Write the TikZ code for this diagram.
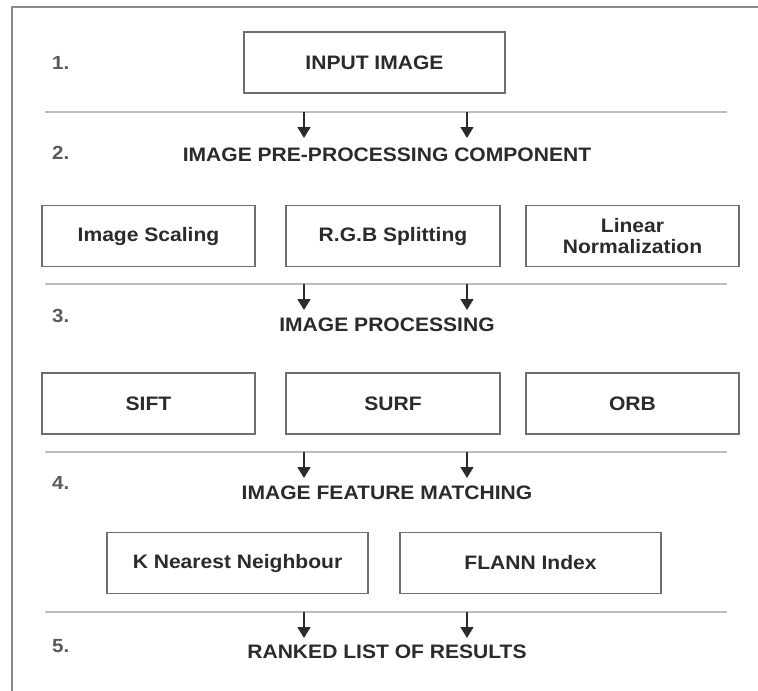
\documentclass[tikz,border=0pt]{standalone}
\usepackage{fontspec}
\setmainfont{Liberation Sans}[FakeStretch=1.08]
\usetikzlibrary{arrows.meta}
\definecolor{ink}{HTML}{2B2B2B}
\definecolor{numink}{HTML}{5A5A5A}
\definecolor{boxline}{HTML}{6E6E6E}
\definecolor{sepline}{HTML}{BDBDBD}
\definecolor{frameline}{HTML}{8A8A8A}
\begin{document}
\begin{tikzpicture}[x=1pt,y=-1pt,
  txt/.style={font=\fontsize{19.5}{22}\selectfont\bfseries, text=ink, align=center, inner sep=0pt},
  num/.style={font=\fontsize{19}{22}\selectfont\bfseries, text=numink, anchor=west, inner sep=0pt},
  stepbox/.style={draw=boxline, line width=1.3pt, minimum height=61pt, txt},
  sep/.style={draw=sepline, line width=1.6pt},
  arr/.style={draw=ink, line width=1.5pt, -{Triangle[width=13pt,length=11pt]}}]
\useasboundingbox (0,0) rectangle (758,691);
\fill[white] (0,0) rectangle (758,691);
% cropped outer frame (top and left edges only)
\draw[frameline, line width=1.6pt] (12,691) -- (12,7) -- (758,7);

% stage numbers
\node[num] (n1) at (52,63) {1.};
\node[num] (n2) at (52,153) {2.};
\node[num] (n3) at (52,316) {3.};
\node[num] (n4) at (52,483) {4.};
\node[num] (n5) at (52,646) {5.};

% stage 1
\node[stepbox, minimum width=261pt] (input) at (374.5,62.5) {INPUT IMAGE};

% separators between stages
\coordinate (s1w) at (45,112);  \coordinate (s1e) at (727,112);
\coordinate (s2w) at (45,284);  \coordinate (s2e) at (727,284);
\coordinate (s3w) at (45,452);  \coordinate (s3e) at (727,452);
\coordinate (s4w) at (45,612);  \coordinate (s4e) at (727,612);
\foreach \s in {1,2,3,4} \draw[sep] (s\s w) -- (s\s e);

% stage headings
\node[txt] (h2) at (387,155) {IMAGE PRE-PROCESSING COMPONENT};
\node[txt] (h3) at (387,325) {IMAGE PROCESSING};
\node[txt] (h4) at (387,493) {IMAGE FEATURE MATCHING};
\node[txt] (h5) at (387,652) {RANKED LIST OF RESULTS};

% stage 2 components
\node[stepbox, minimum width=213pt] (scale) at (148.5,236) {Image Scaling};
\node[stepbox, minimum width=214pt] (rgb)   at (393,236)   {R.G.B Splitting};
\node[stepbox, minimum width=213pt] (norm)  at (632.5,236) {Linear\\[-1pt]Normalization};

% stage 3 components
\node[stepbox, minimum width=213pt] (sift) at (148.5,403.5) {SIFT};
\node[stepbox, minimum width=214pt] (surf) at (393,403.5)   {SURF};
\node[stepbox, minimum width=213pt] (orb)  at (632.5,403.5) {ORB};

% stage 4 components
\node[stepbox, minimum width=261pt] (knn)   at (237.5,563) {K Nearest Neighbour};
\node[stepbox, minimum width=261pt] (flann) at (530.5,563) {FLANN Index};

% flow arrows from each separator down to the next heading
\foreach \s/\y in {1/138,2/310,3/478,4/638}{
  \coordinate (aL\s) at (304,\y);
  \coordinate (aR\s) at (467,\y);
  \draw[arr] (s\s w -| aL\s) -- (aL\s);
  \draw[arr] (s\s w -| aR\s) -- (aR\s);
}
\end{tikzpicture}
\end{document}
